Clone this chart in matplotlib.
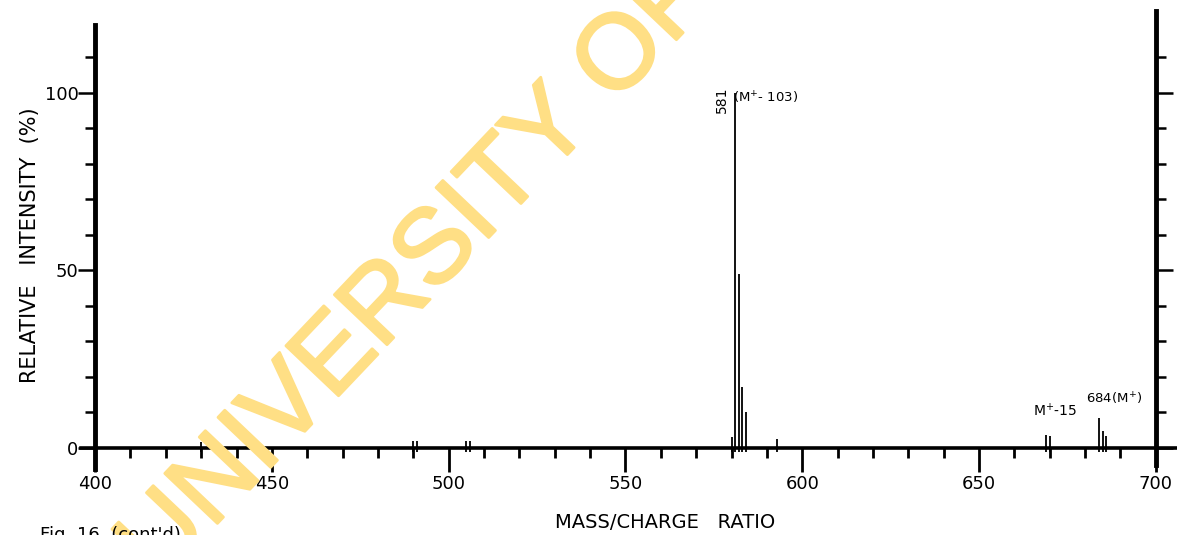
import numpy as np
import matplotlib.pyplot as plt
import matplotlib.patheffects as pe

# peak list (m/z, relative intensity %)
mz = [430, 490, 491, 505, 506, 580, 581, 582, 583, 584, 593, 669, 670, 684, 685, 686]
intensity = [1.5, 2.0, 2.0, 2.0, 2.0, 3.0, 100.0, 49.0, 17.0, 10.0, 2.5, 3.6, 3.2, 8.5, 4.8, 3.4]

x_major = [400, 450, 500, 550, 600, 650, 700]
x_minor = list(range(400, 701, 10))
y_major = [0, 50, 100]
y_minor = list(range(0, 111, 10))

W, H = 1177, 535
fig = plt.figure(figsize=(W / 100, H / 100), dpi=100)
fig.patch.set_facecolor('white')

# library watermark across the scan
wm_color = '#FFDF85'
fig.text(159 / W, 1 - 585 / H, 'UNIVERSITY OF', rotation=46.5, rotation_mode='anchor',
         ha='left', va='baseline', fontsize=76, family='Liberation Sans', color=wm_color,
         zorder=0, path_effects=[pe.withStroke(linewidth=2, foreground=wm_color)])

left_px, right_px = 81, 1177
bot_px, top_px = 469, 18
ax = fig.add_axes([left_px / W, 1 - bot_px / H, (right_px - left_px) / W, (bot_px - top_px) / H])
ax.patch.set_alpha(0)
ax.set_xlim(396, 706)
ax.set_ylim(-6, 121)

ax.vlines(mz, -1.2, intensity, color='black', lw=1.3)

ax.spines['top'].set_visible(False)
ax.spines['left'].set_position(('data', 400))
ax.spines['right'].set_position(('data', 700))
ax.spines['bottom'].set_position(('data', 0))
ax.spines['left'].set_bounds(-6, 119)
ax.spines['right'].set_bounds(-5, 123)
for side in ['left', 'right']:
    ax.spines[side].set_linewidth(3.5)
ax.spines['bottom'].set_linewidth(2.6)

ax.set_xticks(x_major)
ax.set_xticks(x_minor, minor=True)
ax.tick_params(axis='x', which='major', direction='out', length=17, width=2, labelsize=13, pad=3)
ax.tick_params(axis='x', which='minor', direction='out', length=7, width=2)

ax.set_yticks(y_major)
ax.set_yticks(y_minor, minor=True)
ax.tick_params(axis='y', which='major', direction='out', length=12, width=1.8,
               labelsize=13, pad=0, right=True, labelright=False)
ax.tick_params(axis='y', which='minor', direction='out', length=7, width=1.8, right=True)

ax.text(577.2, 98, '581', rotation=90, ha='center', va='center', fontsize=10)
ax.text(580.3, 98.5, '(M$^{+}$- 103)', ha='left', va='center', fontsize=9.5)
ax.text(671.5, 10.5, 'M$^{+}$-15', ha='center', va='center', fontsize=10)
ax.text(688.3, 13.8, '684(M$^{+}$)', ha='center', va='center', fontsize=9.5)

fig.text(30 / W, 1 - 245 / H, 'RELATIVE   INTENSITY  (%)', rotation=90,
         ha='center', va='center', fontsize=15)
fig.text(665 / W, 1 - 522 / H, 'MASS/CHARGE   RATIO', ha='center', va='center', fontsize=14)
fig.text(40 / W, 1 - 526 / H, "Fig. 16  (cont'd)", ha='left', va='top', fontsize=13)

fig.savefig('out.png', dpi=100)
